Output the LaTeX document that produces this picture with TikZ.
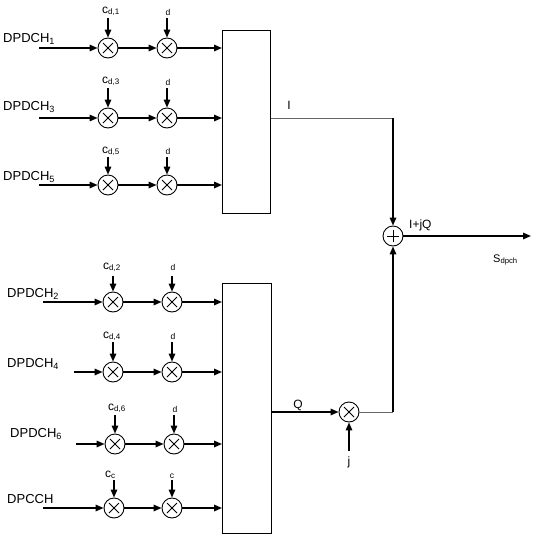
\documentclass[tikz,border=0pt]{standalone}
\usepackage{fontspec}
\setmainfont{Liberation Sans}
\usetikzlibrary{arrows.meta,calc}
\newcommand\mkrow[7]{%
  \coordinate (#1s) at (#3,#2);
  \node[mult] (#1a) at (#4,#2) {};
  \node[mult] (#1b) at (#5,#2) {};
  \coordinate (#1ca) at (#4,#6);
  \coordinate (#1cb) at (#5,#6);
  \draw[arr] (#1s) -- (#1a);
  \draw[arr] (#1a) -- (#1b);
  \draw[arr] (#1b) -- (#1b -| #7.west);
  \draw[arr] (#1ca) -- (#1a);
  \draw[arr] (#1cb) -- (#1b);
}
\begin{document}
\begin{tikzpicture}[x=1pt,y=-1pt,
  arr/.style={line width=1.6pt,-{Triangle[length=8pt,width=6.5pt]}},
  thinline/.style={line width=0.9pt,black!60},
  mult/.style={circle,draw,line width=0.9pt,minimum size=20pt,inner sep=0pt,
    path picture={\draw[line width=0.8pt]
      ($(path picture bounding box.center)+(-5pt,-5pt)$) -- ($(path picture bounding box.center)+(5pt,5pt)$)
      ($(path picture bounding box.center)+(-5pt,5pt)$) -- ($(path picture bounding box.center)+(5pt,-5pt)$);}},
  sumnode/.style={circle,draw,line width=0.9pt,minimum size=20pt,inner sep=0pt,
    path picture={\draw[line width=0.8pt]
      ($(path picture bounding box.center)+(-6pt,0pt)$) -- ($(path picture bounding box.center)+(6pt,0pt)$)
      ($(path picture bounding box.center)+(0pt,-6pt)$) -- ($(path picture bounding box.center)+(0pt,6pt)$);}},
  box/.style={draw,line width=0.9pt,inner sep=0pt,anchor=north west},
  chlab/.style={font=\fontsize{13}{14}\selectfont,anchor=base west,inner sep=0pt},
  clab/.style={font=\fontsize{12}{13}\selectfont,anchor=base west,inner sep=0pt},
  dlab/.style={font=\fontsize{8.5}{9}\selectfont,anchor=base,inner sep=0pt},
  sig/.style={font=\fontsize{12}{13}\selectfont,anchor=base,inner sep=0pt},
]
\useasboundingbox (0,0) rectangle (533,536);
\node[box,minimum width=48pt,minimum height=183pt] (box1) at (222,30) {};
\node[box,minimum width=49pt,minimum height=250pt] (box2) at (222,283) {};

% top group
\mkrow{r1}{48}{39}{108}{167}{18}{box1}
\mkrow{r3}{118}{39}{108}{167}{88}{box1}
\mkrow{r5}{185}{39}{108}{167}{157}{box1}
% bottom group
\mkrow{r2}{302}{43}{113}{172}{276}{box2}
\mkrow{r4}{372}{74}{113}{172}{342}{box2}
\mkrow{r6}{444}{76}{115}{174}{415}{box2}
\mkrow{rc}{508}{43}{114}{172}{480}{box2}

% channel labels
\node[chlab] (l1) at (3,42) {DPDCH\textsubscript{1}};
\node[chlab] (l3) at (3,110) {DPDCH\textsubscript{3}};
\node[chlab] (l5) at (3,180) {DPDCH\textsubscript{5}};
\node[chlab] (l2) at (7,297) {DPDCH\textsubscript{2}};
\node[chlab] (l4) at (7,367) {DPDCH\textsubscript{4}};
\node[chlab] (l6) at (10,437) {DPDCH\textsubscript{6}};
\node[chlab] (lc) at (7,503) {DPCCH};

% code labels
\node[clab] (c1) at (102,13) {c\textsubscript{d,1}};
\node[clab] (c3) at (102,83) {c\textsubscript{d,3}};
\node[clab] (c5) at (102,153) {c\textsubscript{d,5}};
\node[clab] (c2) at (103,269) {c\textsubscript{d,2}};
\node[clab] (c4) at (103,338) {c\textsubscript{d,4}};
\node[clab] (c6) at (108,410) {c\textsubscript{d,6}};
\node[clab] (cc) at (105,477) {c\textsubscript{c}};
\node[dlab] (d1) at (168,15) {d};
\node[dlab] (d3) at (168,85) {d};
\node[dlab] (d5) at (168,154) {d};
\node[dlab] (d2) at (173,270) {d};
\node[dlab] (d4) at (173,339) {d};
\node[dlab] (d6) at (175,412) {d};
\node[dlab] (dc) at (172,478) {c};

% combining
\node[sumnode] (sum) at (393,236) {};
\coordinate (icorner) at (393,118);
\draw[thinline] (box1.east |- icorner) -- (icorner);
\draw[arr] (icorner) -- (sum);
\node[sig] (ilab) at (289,109) {I};

\node[mult] (qm) at (349,412) {};
\draw[arr] (box2.east |- qm) -- (qm);
\node[sig] (qlab) at (298,408) {Q};
\coordinate (qcorner) at (393,412);
\draw[thinline] (qm) -- (qcorner);
\draw[arr] (qcorner) -- (sum);
\coordinate (jin) at (349,451);
\draw[arr] (jin) -- (qm);
\node[sig] (jlab) at (349,465) {j};

\coordinate (out) at (531,236);
\draw[arr] (sum) -- (out);
\node[sig,anchor=base west] (iq) at (409,228) {I+jQ};
\node[sig,anchor=base west,font=\fontsize{11}{12}\selectfont] (sd) at (493,262) {S\textsubscript{dpch}};
\end{tikzpicture}
\end{document}
